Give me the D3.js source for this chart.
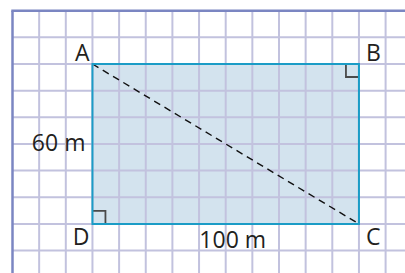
<!DOCTYPE html>
<html>
<head>
<meta charset="utf-8">
<script src="https://cdn.jsdelivr.net/npm/d3@7"></script>
<style>
  body { margin: 0; background: #fff; }
  svg { display: block; }
</style>
</head>
<body>
<div id="chart"></div>
<script>
// rectangle corners, in metres
const pointNames = ["A", "B", "C", "D"];
const pointX = [0, 100, 100, 0];
const pointY = [60, 60, 0, 0];
// side labels
const sideLabels = ["100 m", "60 m"];
// grid range, in metres (one cell = 10 m)
const gridXTicks = [-20, -10, 0, 10, 20, 30, 40, 50, 60, 70, 80, 90, 100, 110];
const gridYTicks = [-10, 0, 10, 20, 30, 40, 50, 60, 70];
const gridOrigin = [-30, 80];

const width = 405, height = 273;
const cell = 26.65;

// metres -> pixels
const x = d3.scaleLinear().domain([-30, 0]).range([12.5, 12.5 + 3 * cell]);
const y = d3.scaleLinear().domain([80, 60]).range([10.7, 10.7 + 2 * cell]);

const svg = d3.select("#chart")
    .append("svg")
    .attr("width", width)
    .attr("height", height);

const pts = pointNames.map((n, i) => ({name: n, x: pointX[i], y: pointY[i]}));

// rectangle fill (under the grid)
svg.append("polygon")
    .attr("points", pts.map(d => `${x(d.x)},${y(d.y)}`).join(" "))
    .attr("fill", "#d3e3ee");

// grid
svg.selectAll(".vLine")
    .data(gridXTicks)
    .enter().append("line")
    .attr("class", "vLine")
    .attr("x1", d => x(d))
    .attr("x2", d => x(d))
    .attr("y1", y(gridOrigin[1]))
    .attr("y2", height)
    .attr("stroke", "#c2c2de")
    .attr("stroke-width", 2);

svg.selectAll(".hLine")
    .data(gridYTicks)
    .enter().append("line")
    .attr("class", "hLine")
    .attr("x1", x(gridOrigin[0]))
    .attr("x2", width)
    .attr("y1", d => y(d))
    .attr("y2", d => y(d))
    .attr("stroke", "#c2c2de")
    .attr("stroke-width", 2);

// frame border top and left
svg.append("line")
    .attr("x1", x(gridOrigin[0]) - 1.2)
    .attr("x2", width)
    .attr("y1", y(gridOrigin[1]))
    .attr("y2", y(gridOrigin[1]))
    .attr("stroke", "#7b86c2")
    .attr("stroke-width", 2.5);
svg.append("line")
    .attr("x1", x(gridOrigin[0]))
    .attr("x2", x(gridOrigin[0]))
    .attr("y1", y(gridOrigin[1]))
    .attr("y2", height)
    .attr("stroke", "#7b86c2")
    .attr("stroke-width", 2.5);

// diagonal A -> C
svg.append("line")
    .attr("x1", x(pts[0].x))
    .attr("y1", y(pts[0].y))
    .attr("x2", x(pts[2].x))
    .attr("y2", y(pts[2].y))
    .attr("stroke", "#111")
    .attr("stroke-width", 1.4)
    .attr("stroke-dasharray", "7,5");

// right angle marks at B and D
const m = 13;
const bx = x(pts[1].x), by = y(pts[1].y);
svg.append("path")
    .attr("d", `M${bx - m},${by} V${by + m} H${bx}`)
    .attr("fill", "none")
    .attr("stroke", "#4a4a4a")
    .attr("stroke-width", 1.8);
const dx = x(pts[3].x), dy = y(pts[3].y);
svg.append("path")
    .attr("d", `M${dx},${dy - m} H${dx + m} V${dy}`)
    .attr("fill", "none")
    .attr("stroke", "#4a4a4a")
    .attr("stroke-width", 1.8);

// rectangle outline
svg.append("polygon")
    .attr("points", pts.map(d => `${x(d.x)},${y(d.y)}`).join(" "))
    .attr("fill", "none")
    .attr("stroke", "#1b9cc6")
    .attr("stroke-width", 2);

// vertex labels
const labelFont = "'Open Sans', 'Noto Sans', sans-serif";
const fs = "23px";
svg.selectAll(".vertexLabel")
    .data(pts)
    .enter().append("text")
    .attr("class", "vertexLabel")
    .attr("x", d => d.x === 0 ? x(d.x) - 3 : x(d.x) + 7)
    .attr("y", d => d.y === 0 ? y(d.y) + 21 : y(d.y) - 3)
    .attr("text-anchor", d => d.x === 0 ? "end" : "start")
    .attr("font-family", labelFont)
    .attr("font-size", fs)
    .attr("fill", "#231f20")
    .text(d => d.name);

// side lengths
svg.append("text")
    .attr("x", x(50) + 7)
    .attr("y", y(0) + 24)
    .attr("text-anchor", "middle")
    .attr("font-family", labelFont)
    .attr("font-size", fs)
    .attr("fill", "#231f20")
    .text(sideLabels[0]);

svg.append("text")
    .attr("x", x(0) - 7)
    .attr("y", y(30) + 7)
    .attr("text-anchor", "end")
    .attr("font-family", labelFont)
    .attr("font-size", fs)
    .attr("fill", "#231f20")
    .text(sideLabels[1]);
</script>
</body>
</html>
